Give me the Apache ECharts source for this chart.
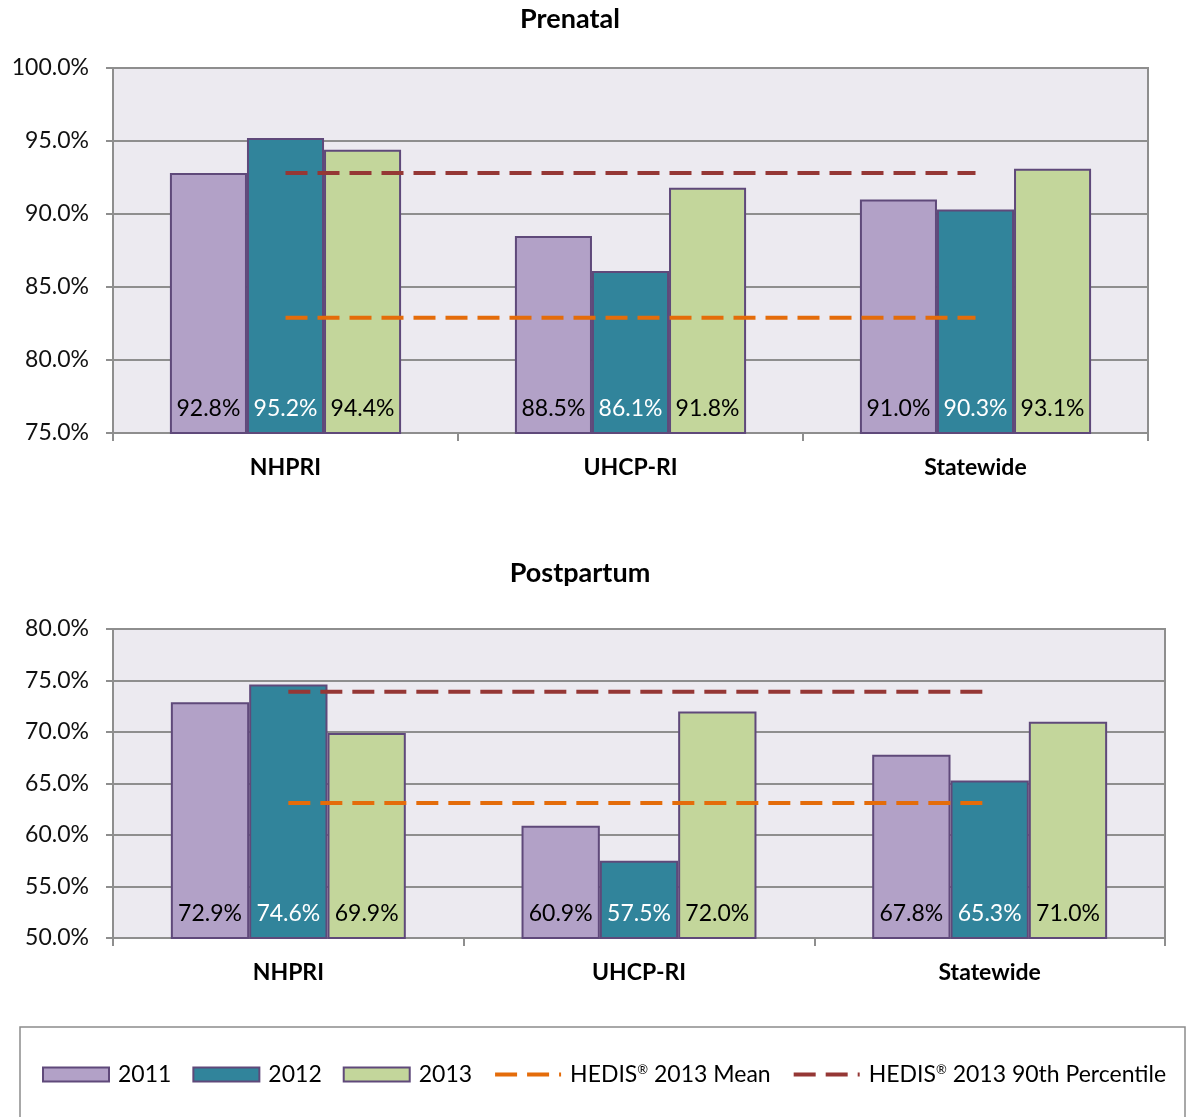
<!DOCTYPE html>
<html>
<head>
<meta charset="utf-8">
<title>Prenatal and Postpartum Care</title>
<script src="https://cdn.jsdelivr.net/npm/echarts@6/dist/echarts.min.js"></script>
<style>
  html, body { margin: 0; padding: 0; background: #fff; }
  #chart { width: 1187px; height: 1117px; }
</style>
</head>
<body>
<div id="chart"></div>
<script>
// Plans shown on the category axis of both panels
const plans = ['NHPRI', 'UHCP-RI', 'Statewide'];

// Prenatal care rates (%)
const prenatal2011 = [92.8, 88.5, 91.0];
const prenatal2012 = [95.2, 86.1, 90.3];
const prenatal2013 = [94.4, 91.8, 93.1];
const prenatalMean = [82.9, 82.9, 82.9];
const prenatalP90 = [92.8, 92.8, 92.8];

// Postpartum care rates (%)
const postpartum2011 = [72.9, 60.9, 67.8];
const postpartum2012 = [74.6, 57.5, 65.3];
const postpartum2013 = [69.9, 72.0, 71.0];
const postpartumMean = [63.1, 63.1, 63.1];
const postpartumP90 = [73.9, 73.9, 73.9];

// Y-axis ranges (tick labels every 5%)
const prenatalAxis = { min: 75, max: 100, step: 5 };
const postpartumAxis = { min: 50, max: 80, step: 5 };

const years = ['2011', '2012', '2013'];
const meanName = 'HEDIS® 2013 Mean';
const p90Name = 'HEDIS® 2013 90th Percentile';

const FONT = 'Lato, "Open Sans", sans-serif';
const barColors = ['#B2A1C7', '#31849B', '#C3D69B'];
const labelColors = ['#000', '#fff', '#000'];
const borderPurple = '#5F497A';
const meanColor = '#E46C0A';
const p90Color = '#953735';
const gridGray = '#8E8E8E';
const dash = [22, 10];

function barSeries(name, data, idx, axisIdx) {
  return {
    type: 'bar',
    name: name,
    data: data,
    xAxisIndex: axisIdx,
    yAxisIndex: axisIdx,
    barGap: '0%',
    barCategoryGap: '33%',
    itemStyle: { color: barColors[idx], borderColor: borderPurple, borderWidth: 2 },
    label: {
      show: true,
      position: 'insideBottom',
      distance: 14,
      fontFamily: FONT,
      fontSize: 23,
      color: labelColors[idx],
      formatter: p => p.value.toFixed(1) + '%'
    },
    emphasis: { disabled: true },
    z: 2
  };
}

function refLine(name, data, color, axisIdx) {
  return {
    type: 'line',
    name: name,
    data: data,
    xAxisIndex: axisIdx,
    yAxisIndex: axisIdx,
    symbol: 'none',
    color: color,
    lineStyle: { color: color, width: 4, type: dash },
    emphasis: { disabled: true },
    z: 5
  };
}

function yAxis(range, gridIdx) {
  return {
    type: 'value',
    gridIndex: gridIdx,
    min: range.min,
    max: range.max,
    interval: range.step,
    axisLine: { show: true, lineStyle: { color: gridGray, width: 2 } },
    axisTick: { show: true, length: 7, lineStyle: { color: gridGray, width: 2 } },
    splitLine: { lineStyle: { color: gridGray, width: 2 } },
    axisLabel: {
      fontFamily: FONT, fontSize: 23, color: '#111', margin: 24,
      formatter: v => v.toFixed(1) + '%'
    }
  };
}

function xAxis(gridIdx) {
  return {
    type: 'category',
    gridIndex: gridIdx,
    data: plans,
    axisLine: { show: true, lineStyle: { color: gridGray, width: 2 } },
    axisTick: { show: true, length: 8, lineStyle: { color: gridGray, width: 2 } },
    axisLabel: { fontFamily: FONT, fontSize: 23, fontWeight: 'bold', color: '#000', margin: 23 }
  };
}

const chart = echarts.init(document.getElementById('chart'), null, { renderer: 'canvas' });

const titleStyle = { fontFamily: FONT, fontSize: 27, fontWeight: 'bold', color: '#000' };

const option = {
  animation: false,
  backgroundColor: '#fff',
  title: [
    { text: 'Prenatal', left: 565, top: 1, textAlign: 'center', textStyle: titleStyle },
    { text: 'Postpartum', left: 575, top: 555, textAlign: 'center', textStyle: titleStyle }
  ],
  grid: [
    {
      left: 113, right: 39, top: 68, height: 365,
      show: true, backgroundColor: '#ECEAF0', borderColor: gridGray, borderWidth: 2
    },
    {
      left: 113, right: 22, top: 629, height: 309,
      show: true, backgroundColor: '#ECEAF0', borderColor: gridGray, borderWidth: 2
    }
  ],
  xAxis: [xAxis(0), xAxis(1)],
  yAxis: [yAxis(prenatalAxis, 0), yAxis(postpartumAxis, 1)],
  legend: {
    left: 42,
    top: 1063,
    padding: 0,
    itemWidth: 66,
    itemHeight: 14,
    itemGap: 21,
    selectedMode: false,
    data: [
      { name: years[0], icon: 'rect' },
      { name: years[1], icon: 'rect' },
      { name: years[2], icon: 'rect' },
      { name: meanName, itemStyle: { opacity: 0 }, lineStyle: { color: meanColor, width: 4, type: dash } },
      { name: p90Name, itemStyle: { opacity: 0 }, lineStyle: { color: p90Color, width: 4, type: dash } }
    ],
    formatter: name => name.replace('®', '{sup|®}'),
    textStyle: {
      fontFamily: FONT, fontSize: 23, color: '#000', padding: [0, 0, 0, 4],
      rich: {
        sup: { fontFamily: FONT, fontSize: 13, color: '#000', verticalAlign: 'top', padding: [0, 0, 10, 0] }
      }
    }
  },
  graphic: [
    {
      type: 'rect',
      shape: { x: 20, y: 1027, width: 1165, height: 120 },
      style: { fill: 'none', stroke: '#8C8C8C', lineWidth: 1.5 },
      silent: true
    }
  ],
  series: [
    barSeries(years[0], prenatal2011, 0, 0),
    barSeries(years[1], prenatal2012, 1, 0),
    barSeries(years[2], prenatal2013, 2, 0),
    refLine(meanName, prenatalMean, meanColor, 0),
    refLine(p90Name, prenatalP90, p90Color, 0),
    barSeries(years[0], postpartum2011, 0, 1),
    barSeries(years[1], postpartum2012, 1, 1),
    barSeries(years[2], postpartum2013, 2, 1),
    refLine(meanName, postpartumMean, meanColor, 1),
    refLine(p90Name, postpartumP90, p90Color, 1)
  ]
};

chart.setOption(option);
</script>
</body>
</html>
